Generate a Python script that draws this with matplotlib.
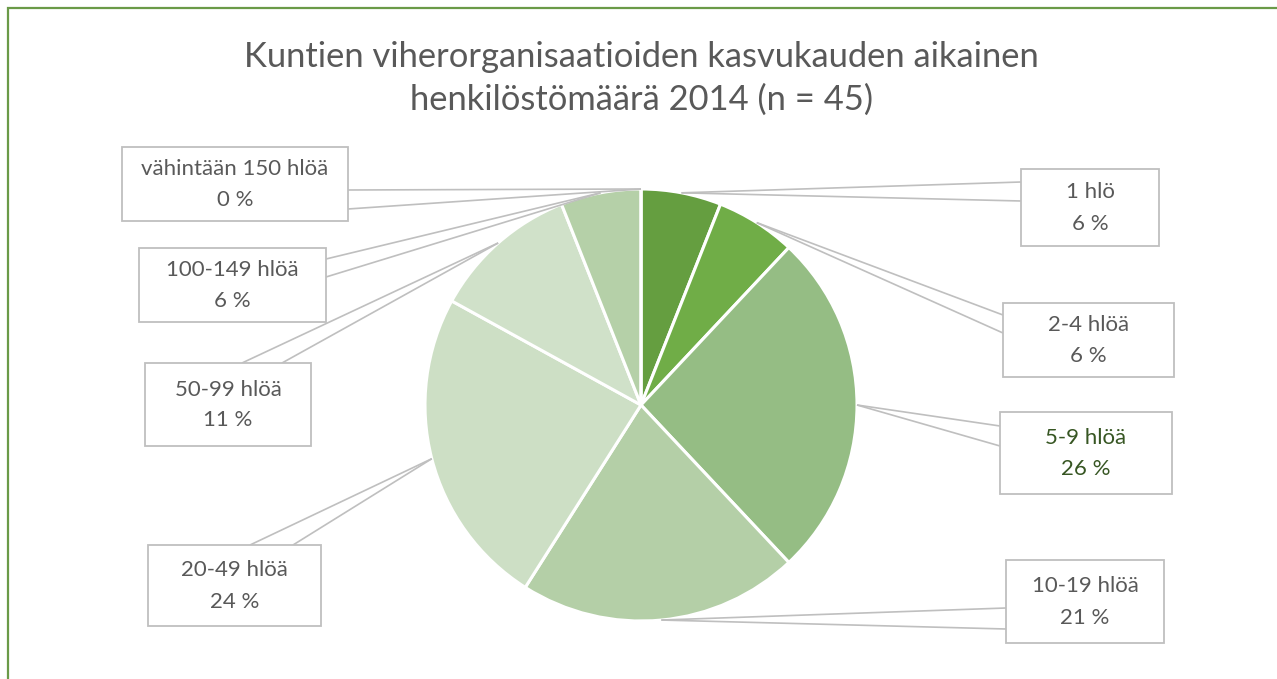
import matplotlib
matplotlib.use("Agg")
import matplotlib.pyplot as plt
from matplotlib.patches import Rectangle
import numpy as np

# data
categories = ["1 hlö", "2-4 hlöä", "5-9 hlöä", "10-19 hlöä",
              "20-49 hlöä", "50-99 hlöä", "100-149 hlöä", "vähintään 150 hlöä"]
shares = [6, 6, 26, 21, 24, 11, 6, 0]
slice_colors = ["#659e40", "#70ad47", "#95bd84", "#b4cfa7",
                "#cddfc5", "#d0e1c9", "#b5d0a8", "#9cc28a"]
title_lines = ["Kuntien viherorganisaatioiden kasvukauden aikainen",
               "henkilöstömäärä 2014 (n = 45)"]

W, H = 1277, 679
CX, CY, R = 641, 405, 216          # pie centre / radius in pixels (y down)
TEXT = "#595959"
GRID = "#bfbfbf"
FONT = "Lato"

# callout boxes: (x0, y0, x1, y1) and the two points where the pointer meets the box
boxes = [
    ((1021, 169, 1159, 246), [(1021, 182), (1021, 201)]),
    ((1003, 303, 1174, 377), [(1003, 315), (1003, 333)]),
    ((1000, 412, 1172, 494), [(1000, 426), (1000, 446)]),
    ((1006, 560, 1164, 643), [(1006, 608), (1006, 629)]),
    ((148, 545, 321, 626), [(250, 545), (293, 545)]),
    ((145, 363, 311, 446), [(242, 363), (282, 363)]),
    ((139, 248, 326, 322), [(326, 259), (326, 277)]),
    ((122, 147, 348, 221), [(348, 190), (348, 209)]),
]
label_colors = [TEXT, TEXT, "#375623", TEXT, TEXT, TEXT, TEXT, TEXT]


def py(y):
    return H - y


fig = plt.figure(figsize=(W / 100, H / 100), dpi=100)
ax = fig.add_axes([0, 0, 1, 1])

ax.pie(shares, colors=slice_colors, startangle=90, counterclock=False,
       center=(CX, py(CY)), radius=R,
       wedgeprops=dict(edgecolor="white", linewidth=2.2))
ax.set_xlim(0, W)
ax.set_ylim(0, H)
ax.set_aspect("equal")
ax.set_axis_off()

# chart area border (cut off on the right and bottom)
ax.add_patch(Rectangle((7.5, py(H + 20)), W + 20, H + 20 - 7.5,
                       fill=False, edgecolor="#6a9a48", linewidth=1.6, zorder=1))

total = float(sum(shares))
cum = np.cumsum([0] + shares[:-1]) / total
mids = cum + np.array(shares) / total / 2

for i, (cat, val) in enumerate(zip(categories, shares)):
    ang = 2 * np.pi * mids[i]
    tip = (CX + R * np.sin(ang), CY - R * np.cos(ang))
    (x0, y0, x1, y1), attach = boxes[i]
    for ax_pt in attach:
        ax.plot([tip[0], ax_pt[0]], [py(tip[1]), py(ax_pt[1])],
                color=GRID, linewidth=1.2, zorder=4, solid_capstyle="butt")
    ax.add_patch(Rectangle((x0, py(y1)), x1 - x0, y1 - y0, facecolor="white",
                           edgecolor=GRID, linewidth=1.3, zorder=5))
    xm = (x0 + x1) / 2
    ym = (y0 + y1) / 2
    ax.text(xm, py(ym - 15), cat, ha="center", va="center", fontsize=16,
            family=FONT, color=label_colors[i], zorder=6)
    ax.text(xm, py(ym + 16), f"{val} %", ha="center", va="center", fontsize=16,
            family=FONT, color=label_colors[i], zorder=6)

ax.text(CX, py(57), title_lines[0], ha="center", va="center", fontsize=24.8,
        family=FONT, color=TEXT)
ax.text(CX, py(100), title_lines[1], ha="center", va="center", fontsize=24.8,
        family=FONT, color=TEXT)

fig.savefig("out.png", dpi=100)
plt.close(fig)
